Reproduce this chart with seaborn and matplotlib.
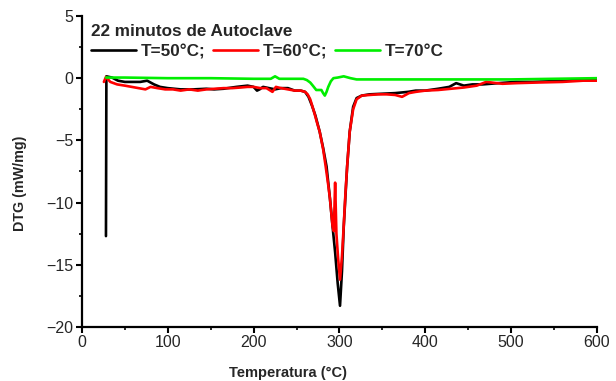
import matplotlib
matplotlib.use("Agg")
import matplotlib.pyplot as plt
import seaborn as sns
import pandas as pd
from matplotlib.ticker import MultipleLocator

# ---- data ----
T_50 = [28, 28.5, 35, 42, 50, 60, 68, 76, 84, 91, 100, 115, 130, 145, 154, 165, 180, 193,
        200, 204, 207, 211, 218, 225, 232, 240, 248, 255, 260, 264, 268, 272, 277, 281, 285,
        289, 292, 295, 298, 300.7, 303, 305, 307, 309, 312, 316, 320, 326, 335, 350, 365, 380,
        389, 400, 415, 428, 436, 445, 455, 467, 485, 506, 525, 545, 565, 584, 600]
DTG_50 = [-12.7, 0.15, 0.05, -0.2, -0.3, -0.3, -0.3, -0.2, -0.5, -0.7, -0.8, -0.9, -0.9, -0.85,
          -0.9, -0.85, -0.7, -0.6, -0.7, -1.0, -0.9, -0.7, -0.8, -0.9, -0.8, -0.8, -1.0, -1.0,
          -1.1, -1.5, -2.2, -3.0, -4.3, -5.6, -7.1, -9.7, -11.9, -14.0, -16.5, -18.3, -15.5,
          -12.0, -9.5, -7.1, -4.3, -2.3, -1.6, -1.4, -1.3, -1.25, -1.2, -1.1, -1.0, -1.0,
          -0.85, -0.7, -0.4, -0.6, -0.5, -0.5, -0.4, -0.3, -0.3, -0.25, -0.2, -0.1, -0.1]

T_60 = [25.6, 28, 33, 41, 50, 58, 66, 74, 80, 88, 97, 106, 115, 125, 135, 145, 155, 165, 175,
        185, 193, 200, 208, 215, 222, 226, 232, 240, 248, 255, 260, 263, 266, 270, 274, 277,
        281, 284, 287, 289, 292, 293.5, 295, 296.5, 298.5, 300.7, 303, 305, 307, 309, 312,
        316, 320, 326, 335, 345, 355, 365, 373, 381, 389, 400, 415, 430, 445, 460, 471, 490,
        506, 530, 560, 584, 600]
DTG_60 = [-0.3, 0.1, -0.3, -0.5, -0.6, -0.7, -0.8, -0.9, -0.7, -0.8, -0.9, -0.9, -1.0, -0.9,
          -1.0, -0.9, -0.85, -0.8, -0.8, -0.75, -0.7, -0.7, -0.8, -0.8, -1.1, -0.7, -0.8,
          -0.9, -1.0, -1.0, -1.1, -1.3, -1.7, -2.6, -3.6, -4.3, -5.7, -7.1, -8.6, -9.7, -11.9,
          -12.3, -8.4, -12.5, -14.5, -16.2, -14.3, -11.9, -9.3, -7.1, -4.3, -2.5, -1.7, -1.4,
          -1.35, -1.3, -1.3, -1.35, -1.5, -1.2, -1.1, -1.0, -0.95, -0.85, -0.75, -0.6, -0.3,
          -0.45, -0.4, -0.35, -0.3, -0.2, -0.2]

T_70 = [28, 50, 100, 150, 200, 220, 225, 230, 245, 258, 262, 266, 269, 273, 276, 279, 281,
        283, 285, 287, 290, 293, 298, 305, 313, 320, 340, 400, 450, 500, 550, 600]
DTG_70 = [0.05, 0.05, 0.0, 0.0, -0.05, -0.05, 0.15, -0.05, -0.05, -0.05, -0.15, -0.35, -0.6,
          -0.95, -0.95, -0.95, -1.2, -1.4, -1.1, -0.7, -0.25, 0.0, 0.05, 0.15, 0.0, -0.1, -0.1,
          -0.1, -0.1, -0.1, -0.05, 0.0]

labels = ["T=50°C;", "T=60°C;", "T=70°C"]
colors = ["#000000", "#ff0000", "#00ee00"]
legend_title = "22 minutos de Autoclave"
xlabel = "Temperatura (°C)"
ylabel = "DTG (mW/mg)"

df = pd.concat([
    pd.DataFrame({"T": T_50, "DTG": DTG_50, "serie": labels[0]}),
    pd.DataFrame({"T": T_60, "DTG": DTG_60, "serie": labels[1]}),
    pd.DataFrame({"T": T_70, "DTG": DTG_70, "serie": labels[2]}),
], ignore_index=True)

sns.set_style("ticks")
plt.rcParams["font.family"] = ["Liberation Sans", "DejaVu Sans"]

fig = plt.figure(figsize=(6.16, 3.81), dpi=100)
ax = fig.add_axes([0.133, 0.142, 0.836, 0.816])

sns.lineplot(data=df, x="T", y="DTG", hue="serie", palette=colors, estimator=None,
             sort=False, linewidth=1.9, ax=ax)

ax.set_xlim(0, 600)
ax.set_ylim(-20, 5)
ax.xaxis.set_major_locator(MultipleLocator(100))
ax.xaxis.set_minor_locator(MultipleLocator(50))
ax.yaxis.set_major_locator(MultipleLocator(5))
ax.yaxis.set_minor_locator(MultipleLocator(2.5))
ax.tick_params(which="major", direction="out", length=4, width=1.5, labelsize=11.5, pad=2, color="black")
ax.tick_params(which="minor", direction="out", length=2.5, width=1.2, color="black")
for s in ["top", "right"]:
    ax.spines[s].set_visible(False)
for s in ["left", "bottom"]:
    ax.spines[s].set_linewidth(1.6)
    ax.spines[s].set_color("black")

ax.set_xlabel(xlabel, fontsize=10.5, fontweight="bold")
ax.set_ylabel(ylabel, fontsize=10.3, fontweight="bold")
ax.xaxis.set_label_coords(0.40, -0.125)
ax.yaxis.set_label_coords(-0.107, 0.463)

leg = ax.legend(title=legend_title, ncol=3, loc="upper left", bbox_to_anchor=(-0.005, 1.012),
                frameon=False, handlelength=2.6, handletextpad=0.3, columnspacing=0.45,
                borderaxespad=0.3, labelspacing=0.2,
                prop={"weight": "bold", "size": 12.3},
                title_fontproperties={"weight": "bold", "size": 12.3})
leg._legend_box.align = "left"
leg._legend_box.sep = 3.5
for line in leg.get_lines():
    line.set_linewidth(1.9)

fig.savefig("out.png", dpi=100)
